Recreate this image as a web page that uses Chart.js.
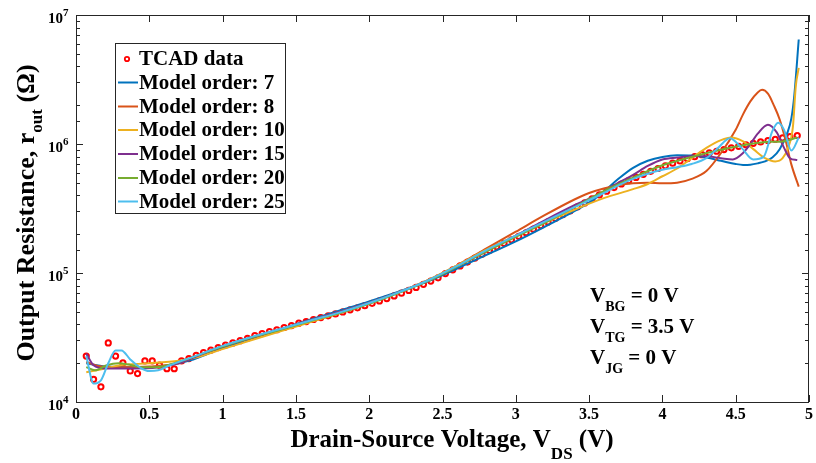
<!DOCTYPE html>
<html>
<head>
<meta charset="utf-8">
<script src="https://cdn.jsdelivr.net/npm/chart.js@4.4.1/dist/chart.umd.min.js"></script>
<style>
  body { margin: 0; background: #fff; }
  canvas { display: block; }
</style>
</head>
<body>
<canvas id="rout" width="816" height="463"></canvas>
<script>
// TCAD data points (V_DS in V, r_out in ohm)
const voltsTcad = [0.07,0.12,0.17,0.22,0.27,0.32,0.37,0.42,0.47,0.52,0.57,0.62,0.67,0.72,0.77,0.82,0.87,0.92,0.97,1.02,
  1.07,1.12,1.17,1.22,1.27,1.32,1.37,1.42,1.47,1.52,1.57,1.62,1.67,1.72,1.77,1.82,1.87,1.92,1.97,2.02,
  2.07,2.12,2.17,2.22,2.27,2.32,2.37,2.42,2.47,2.52,2.57,2.62,2.67,2.72,2.77,2.82,2.87,2.92,2.97,3.02,
  3.07,3.12,3.17,3.22,3.27,3.32,3.37,3.42,3.47,3.52,3.57,3.62,3.67,3.72,3.77,3.82,3.87,3.92,3.97,4.02,
  4.07,4.12,4.17,4.22,4.27,4.32,4.37,4.42,4.47,4.52,4.57,4.62,4.67,4.72,4.77,4.82,4.87,4.92];
const rTcad = [22700,15000,13100,28700,22700,20100,17400,16600,20800,20800,19300,18100,18100,20800,21700,23000,24200,25200,26400,27600,
  28700,29900,31200,32700,33900,35200,36300,37800,39100,40800,42000,43600,45100,46600,48200,49900,51800,53700,55800,58200,
  60700,63400,66400,69700,73300,77300,81700,86500,91800,98900,105900,113500,121600,130300,139600,149600,159600,169800,180700,192300,
  205100,218800,233300,248900,265500,283100,302700,325100,349100,375800,402700,430500,459200,489800,520000,550800,582100,613800,645700,677600,
  709600,739600,769100,798000,826000,853100,879000,905700,933300,959400,986300,1011600,1037500,1064100,1088900,1114300,1140200,1164100];

// model order 7
const voltsM7 = [0.07,0.2,0.4,0.6,0.8,1.0,1.2,1.4,1.6,1.8,2.0,2.2,2.4,2.6,2.8,3.0,3.2,3.4,3.5,3.6,3.7,3.8,3.9,4.0,4.1,4.2,4.3,4.4,4.5,4.55,4.6,4.65,4.7,4.75,4.8,4.85,4.88,4.9,4.93];
const rM7 = [19950,18840,18620,19050,21380,26300,31260,36730,43650,51290,60260,71610,86100,108400,138000,175800,229100,302000,350800,426600,537000,653100,741300,794300,816600,812800,785200,741300,699800,688700,691800,707900,732800,785200,912000,1202000,1585000,2399000,6457000];

// model order 8
const voltsM8 = [0.07,0.15,0.3,0.5,0.7,0.8,1.0,1.2,1.4,1.6,1.8,2.0,2.2,2.4,2.6,2.8,3.0,3.2,3.4,3.5,3.6,3.7,3.8,3.9,4.0,4.1,4.2,4.3,4.4,4.5,4.55,4.6,4.65,4.68,4.72,4.76,4.8,4.84,4.88,4.93];
const rM8 = [20420,19050,18620,18840,19950,22130,26920,31620,36730,43150,50120,58880,70790,88100,114800,154900,208900,281800,371500,416900,451900,478600,495500,501200,495500,501200,537000,616600,851100,1288000,1698000,2138000,2512000,2630000,2455000,1995000,1549000,1072000,691800,467700];

// model order 10
const voltsM10 = [0.07,0.2,0.3,0.5,0.7,0.8,1.0,1.2,1.4,1.6,1.8,2.0,2.2,2.4,2.6,2.8,3.0,3.2,3.4,3.6,3.8,3.9,4.0,4.1,4.2,4.3,4.4,4.47,4.55,4.62,4.7,4.77,4.82,4.86,4.89,4.91,4.93];
const rM10 = [16980,18200,19280,19950,20890,21880,25700,30200,35480,41690,48980,58210,70790,88100,114800,151400,195000,245500,309000,380200,446700,489800,562300,645700,776200,933300,1072000,1122000,1047000,912000,776200,732800,776200,955000,1349000,2818000,3890000];

// model order 15
const voltsM15 = [0.07,0.12,0.2,0.4,0.55,0.7,0.8,1.0,1.2,1.4,1.6,1.8,2.0,2.2,2.4,2.6,2.8,3.0,3.2,3.4,3.6,3.7,3.8,3.9,4.0,4.1,4.2,4.3,4.4,4.48,4.55,4.6,4.65,4.72,4.78,4.83,4.87,4.92];
const rM15 = [23710,19280,18200,18200,18490,19950,22130,26920,31620,36730,43150,50120,58880,70790,87100,112200,147900,195000,257000,335000,426600,501200,575400,676100,758600,785200,803500,803500,776200,758600,851100,1000000,1202000,1413000,1230000,933300,776200,749900];

// model order 20
const voltsM20 = [0.07,0.13,0.21,0.29,0.36,0.44,0.55,0.7,0.8,1.0,1.2,1.4,1.6,1.8,2.0,2.2,2.4,2.6,2.8,3.0,3.2,3.4,3.6,3.8,4.0,4.2,4.4,4.6,4.73,4.82,4.92];
const rM20 = [18620,17620,19280,19950,19500,18620,18620,20420,22390,26920,31620,36480,42460,48980,57810,69980,86500,112200,147200,190500,245500,323600,431500,549500,683900,794300,901600,1000000,1040000,1047000,1122000];

// model order 25
const voltsM25 = [0.07,0.12,0.17,0.22,0.27,0.31,0.37,0.44,0.5,0.56,0.64,0.73,0.8,1.0,1.2,1.4,1.6,1.8,2.0,2.2,2.4,2.6,2.8,3.0,3.2,3.4,3.6,3.7,3.8,3.9,4.0,4.1,4.2,4.3,4.38,4.46,4.54,4.62,4.69,4.75,4.79,4.83,4.88,4.93];
const rM25 = [22750,13900,14720,19950,25120,25120,21380,18410,17380,17620,19280,21040,22390,27230,31990,36980,42850,49550,58610,70790,87500,113500,150700,195000,251200,323600,416900,478600,537000,588800,631000,660700,699800,776200,933300,1109000,933300,758600,794300,1259000,1462000,1288000,891300,1122000];

const modelNames = ['Model order: 7','Model order: 8','Model order: 10','Model order: 15','Model order: 20','Model order: 25'];
const modelColors = ['#0072BD','#D95319','#EDB120','#7E2F8E','#77AC30','#4DBEEE'];
const modelVolts = [voltsM7, voltsM8, voltsM10, voltsM15, voltsM20, voltsM25];
const modelR = [rM7, rM8, rM10, rM15, rM20, rM25];
const xTicks = [0,0.5,1,1.5,2,2.5,3,3.5,4,4.5,5];
const yDecades = [1e4,1e5,1e6,1e7];

const serif = '"Liberation Serif", "Times New Roman", serif';

function pts(xs, ys){
  let out = [];
  for (let i = 0; i < xs.length; i++) out.push({x: xs[i], y: ys[i]});
  return out;
}

let datasets = [{
  label: 'TCAD data',
  data: pts(voltsTcad, rTcad),
  showLine: false,
  pointStyle: 'circle',
  pointRadius: 2.6,
  pointBorderWidth: 2,
  pointBorderColor: '#ff0000',
  pointBackgroundColor: 'rgba(0,0,0,0)',
  borderColor: '#ff0000',
  order: 10
}];
for (let i = 0; i < modelNames.length; i++){
  datasets.push({
    label: modelNames[i],
    data: pts(modelVolts[i], modelR[i]),
    borderColor: modelColors[i],
    borderWidth: 2,
    pointRadius: 0,
    fill: false,
    cubicInterpolationMode: 'monotone',
    order: 9 - i
  });
}

// text with subscripts/superscripts: parts = [text, size, dy]
function partsWidth(ctx, parts){
  let w = 0;
  for (const p of parts){ ctx.font = 'bold ' + p[1] + 'px ' + serif; w += ctx.measureText(p[0]).width; }
  return w;
}
function drawParts(ctx, parts, x, y){
  for (const p of parts){
    ctx.font = 'bold ' + p[1] + 'px ' + serif;
    ctx.fillText(p[0], x, y + p[2]);
    x += ctx.measureText(p[0]).width;
  }
}

const decor = {
  id: 'decor',
  afterDatasetsDraw(chart){
    const ctx = chart.ctx, a = chart.chartArea;
    const xs = chart.scales.x, ys = chart.scales.y;
    ctx.save();
    ctx.strokeStyle = '#262626';
    ctx.lineWidth = 1;
    ctx.strokeRect(Math.round(a.left) + 0.5, Math.round(a.top) + 0.5, Math.round(a.right - a.left) - 1, Math.round(a.bottom - a.top));
    ctx.beginPath();
    for (const v of xTicks){
      const px = Math.round(xs.getPixelForValue(v)) + 0.5;
      ctx.moveTo(px, a.bottom); ctx.lineTo(px, a.bottom - 7);
      ctx.moveTo(px, a.top); ctx.lineTo(px, a.top + 7);
    }
    for (const t of ys.ticks){
      const py = Math.round(ys.getPixelForValue(t.value)) + 0.5;
      const len = yDecades.includes(t.value) ? 7 : 4;
      ctx.moveTo(a.left, py); ctx.lineTo(a.left + len, py);
      ctx.moveTo(a.right, py); ctx.lineTo(a.right - len, py);
    }
    ctx.stroke();

    // y tick labels 10^n
    ctx.fillStyle = '#000';
    ctx.textBaseline = 'alphabetic';
    for (const v of yDecades){
      const py = ys.getPixelForValue(v);
      ctx.font = 'bold 15px ' + serif;
      ctx.textAlign = 'right';
      ctx.fillText('10', 63, py + 8);
      ctx.font = 'bold 11px ' + serif;
      ctx.textAlign = 'left';
      ctx.fillText(String(Math.round(Math.log10(v))), 63, py + 1);
    }

    // axis titles
    ctx.textAlign = 'left';
    const xt = [['Drain-Source Voltage, V', 25, 0], ['DS', 17, 12], [' (V)', 25, 0]];
    drawParts(ctx, xt, 452 - partsWidth(ctx, xt) / 2, 447);
    const yt = [['Output Resistance, r', 26, 0], ['out', 17, 8], [' (\u03A9)', 26, 0]];
    ctx.save();
    ctx.translate(34, 213);
    ctx.rotate(-Math.PI / 2);
    drawParts(ctx, yt, -partsWidth(ctx, yt) / 2, 0);
    ctx.restore();

    // legend
    ctx.fillStyle = '#fff';
    ctx.fillRect(115.5, 43.5, 170, 170);
    ctx.strokeStyle = '#262626';
    ctx.strokeRect(115.5, 43.5, 170, 170);
    const rows = [59, 82.5, 106.5, 130, 154, 178, 201.5];
    ctx.font = 'bold 21px ' + serif;
    ctx.textBaseline = 'middle';
    for (let i = 0; i < rows.length; i++){
      const ds = chart.data.datasets[i];
      if (i === 0){
        ctx.beginPath();
        ctx.arc(127, rows[i], 2.2, 0, Math.PI * 2);
        ctx.strokeStyle = '#ff0000';
        ctx.lineWidth = 1.8;
        ctx.stroke();
      } else {
        ctx.beginPath();
        ctx.moveTo(118, rows[i]); ctx.lineTo(138, rows[i]);
        ctx.strokeStyle = ds.borderColor;
        ctx.lineWidth = 2;
        ctx.stroke();
      }
      ctx.fillStyle = '#000';
      ctx.fillText(ds.label, 139, rows[i] + 1);
    }

    // bias conditions
    ctx.textBaseline = 'alphabetic';
    drawParts(ctx, [['V', 21, 0], ['BG', 14, 9], [' = 0 V', 21, 0]], 590, 302);
    drawParts(ctx, [['V', 21, 0], ['TG', 14, 9], [' = 3.5 V', 21, 0]], 590, 333);
    drawParts(ctx, [['V', 21, 0], ['JG', 14, 9], [' = 0 V', 21, 0]], 590, 364);
    ctx.restore();
  }
};

new Chart(document.getElementById('rout'), {
  type: 'line',
  data: { datasets: datasets },
  options: {
    responsive: false,
    animation: false,
    layout: { padding: { top: 15, right: 6, left: 0, bottom: 0 }, autoPadding: false },
    plugins: { legend: { display: false }, tooltip: { enabled: false } },
    scales: {
      x: {
        type: 'linear', min: 0, max: 5,
        grid: { display: false, drawTicks: false, tickLength: 0 },
        border: { display: false },
        ticks: {
          stepSize: 0.5, autoSkip: false, maxRotation: 0, padding: 3,
          color: '#000', font: { family: serif, size: 16, weight: 'bold' },
          callback: function(v){ return String(v); }
        },
        afterFit: function(s){ s.height = 61; }
      },
      y: {
        type: 'logarithmic', min: 1e4, max: 1e7,
        grid: { display: false },
        border: { display: false },
        ticks: { display: false },
        afterFit: function(s){ s.height; s.width = 76; }
      }
    }
  },
  plugins: [decor]
});
</script>
</body>
</html>
